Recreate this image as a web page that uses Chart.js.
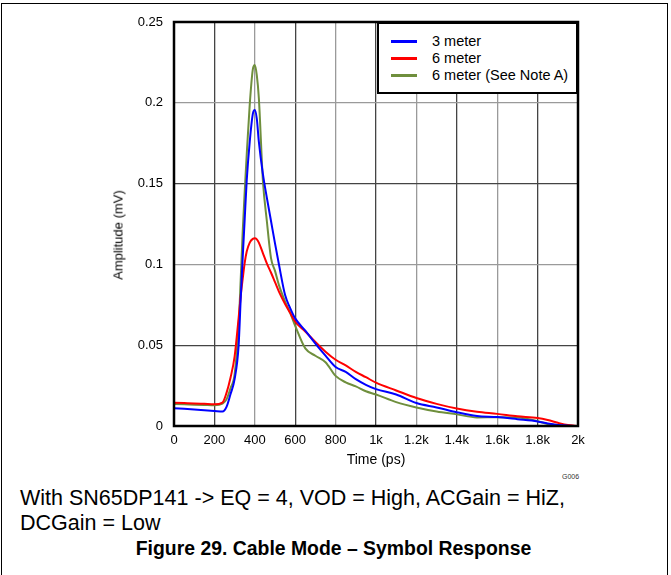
<!DOCTYPE html>
<html>
<head>
<meta charset="utf-8">
<script src="https://cdn.jsdelivr.net/npm/chart.js@4.4.1/dist/chart.umd.min.js"></script>
<style>
  html, body { margin: 0; padding: 0; background: #fff; }
  body { width: 671px; height: 575px; position: relative; overflow: hidden; font-family: "Liberation Sans", Arial, sans-serif; }
  #frame { position: absolute; left: 1px; top: 3px; width: 667px; height: 620px; border: 1.5px solid #000; box-sizing: border-box; }
  #chart { position: absolute; left: 0; top: 0; }
  #ytitle { position: absolute; left: 118px; top: 235px; width: 0; height: 0; }
  #ytitle span { position: absolute; left: 0; top: 0; transform: translate(-50%, -50%) rotate(-90deg);
                 white-space: nowrap; font-size: 13px; color: #000; }
  #legend { position: absolute; left: 377px; top: 22px; width: 201px; height: 72px; box-sizing: border-box;
            border: 2px solid #000; background: #fff; padding-top: 9px; }
  .row { position: relative; height: 17px; font-size: 14.5px; line-height: 17px; color: #000; }
  .row .swatch { position: absolute; left: 12px; top: 7px; width: 26px; height: 3px; }
  .row .txt { position: absolute; left: 53px; top: 0; white-space: nowrap; }
  #code { position: absolute; left: 562px; top: 473px; font-size: 7px; color: #333; }
  .note { position: absolute; left: 20px; font-size: 21.5px; color: #000; white-space: nowrap; }
  #title { position: absolute; left: 0; width: 667px; text-align: center; top: 537px; font-size: 19.4px; font-weight: bold; white-space: nowrap; }
</style>
</head>
<body>
<div id="frame"></div>
<canvas id="chart" width="671" height="470"></canvas>
<div id="ytitle"><span>Amplitude (mV)</span></div>
<div id="legend"></div>
<div id="code">G006</div>
<div class="note" style="top:486px">With SN65DP141 -&gt; EQ = 4, VOD = High, ACGain = HiZ,</div>
<div class="note" style="top:511px">DCGain = Low</div>
<div id="title">Figure 29. Cable Mode – Symbol Response</div>
<script>
// Sample times (ps)
const timePs = [0, 50, 100, 150, 200, 240, 260, 280, 300, 320, 330, 340, 350, 360, 375, 390, 400, 410, 420, 440,
  460, 480, 500, 520, 550, 575, 600, 650, 700, 750, 800, 850, 900, 950, 1000, 1100, 1200, 1300, 1400,
  1500, 1600, 1700, 1800, 1850, 1900, 1950, 2000];

// Amplitude (mV) for each cable setup
const meter3 = [0.011, 0.0106, 0.0102, 0.0098, 0.0093, 0.0089, 0.0118, 0.0198, 0.029, 0.05, 0.078, 0.104, 0.128, 0.152,
  0.176, 0.193, 0.1955, 0.19, 0.176, 0.156, 0.141, 0.127, 0.113, 0.0996, 0.081, 0.073, 0.0666, 0.059, 0.051,
  0.0435, 0.0365, 0.0335, 0.029, 0.0255, 0.0228, 0.0195, 0.0142, 0.0115, 0.0085, 0.0062, 0.0055, 0.0042,
  0.0028, 0.0015, 0.0006, 0.0002, 0];
const meter6 = [0.0144, 0.0142, 0.014, 0.0137, 0.0134, 0.0145, 0.0205, 0.03, 0.043, 0.067, 0.08, 0.091, 0.101, 0.108,
  0.1135, 0.1158, 0.1162, 0.1155, 0.1135, 0.107, 0.1005, 0.095, 0.089, 0.083, 0.0755, 0.07, 0.0645, 0.0585,
  0.052, 0.046, 0.041, 0.0375, 0.0335, 0.0302, 0.0268, 0.022, 0.0173, 0.0137, 0.0108, 0.0088, 0.0075, 0.006,
  0.0049, 0.0037, 0.002, 0.0006, 0];
const meter6NoteA = [0.0136, 0.0134, 0.0132, 0.013, 0.0128, 0.0138, 0.0165, 0.0235, 0.032, 0.062, 0.09, 0.12, 0.145,
  0.168, 0.199, 0.2205, 0.2234, 0.217, 0.203, 0.152, 0.1264, 0.104, 0.096, 0.087, 0.077, 0.07, 0.062, 0.048,
  0.0435, 0.0395, 0.031, 0.027, 0.0245, 0.0215, 0.0195, 0.0148, 0.0115, 0.009, 0.0072, 0.0053, 0.0054, 0.0052,
  0.003, 0.0012, 0.0004, 0.0001, 0];

const seriesLabels = ['3 meter', '6 meter', '6 meter (See Note A)'];
const seriesColors = ['#0000ff', '#ff0000', '#6f8f3d'];
const seriesValues = [meter3, meter6, meter6NoteA];

const xTickLabels = { 0: '0', 200: '200', 400: '400', 600: '600', 800: '800', 1000: '1k', 1200: '1.2k',
  1400: '1.4k', 1600: '1.6k', 1800: '1.8k', 2000: '2k' };
const yTickLabels = { 0: '0', 0.05: '0.05', 0.1: '0.1', 0.15: '0.15', 0.2: '0.2', 0.25: '0.25' };

const CANVAS_H = 470;
const AREA = { left: 174, right: 578, top: 22, bottom: 426 };

const datasets = seriesValues.map((vals, i) => ({
  label: seriesLabels[i],
  data: timePs.map((t, j) => ({ x: t, y: vals[j] })),
  borderColor: seriesColors[i],
  borderWidth: 2,
  pointRadius: 0,
  fill: false,
  cubicInterpolationMode: 'monotone'
}));

// thick black box around the plot area
const plotFrame = {
  id: 'plotFrame',
  afterDatasetsDraw(chart) {
    const { ctx, chartArea: a } = chart;
    ctx.save();
    ctx.strokeStyle = '#000';
    ctx.lineWidth = 2.5;
    ctx.strokeRect(a.left, a.top, a.right - a.left, a.bottom - a.top);
    ctx.restore();
  }
};

const tickFont = { family: '"Liberation Sans", Arial, sans-serif', size: 13 };
const titleFont = { family: '"Liberation Sans", Arial, sans-serif', size: 14 };

const chart = new Chart(document.getElementById('chart'), {
  type: 'line',
  data: { datasets },
  options: {
    responsive: false,
    animation: false,
    layout: { padding: { top: AREA.top, right: 671 - AREA.right, left: 0, bottom: 0 } },
    plugins: { legend: { display: false }, tooltip: { enabled: false } },
    scales: {
      x: {
        type: 'linear', min: 0, max: 2000,
        afterFit: (s) => { s.height = CANVAS_H - AREA.bottom; },
        afterBuildTicks: (s) => { s.ticks = Object.keys(xTickLabels).map(v => ({ value: +v })); },
        ticks: { color: '#000', font: tickFont, padding: 7, maxRotation: 0,
                 callback: (v) => xTickLabels[v] },
        grid: { drawTicks: false, lineWidth: 1.3,
                color: (c) => (c.tick && (c.tick.value / 200) % 2 === 1 ? '#444' : '#9a9a9a') },
        border: { display: false },
        title: { display: true, text: 'Time (ps)', color: '#000', font: titleFont, padding: { bottom: 1, top: 0 } }
      },
      y: {
        type: 'linear', min: 0, max: 0.25,
        afterFit: (s) => { s.width = AREA.left; },
        afterBuildTicks: (s) => { s.ticks = Object.keys(yTickLabels).map(v => ({ value: +v })); },
        ticks: { color: '#000', font: tickFont, padding: 11,
                 callback: (v) => yTickLabels[+v.toFixed(2)] },
        grid: { drawTicks: false, lineWidth: 1.3,
                color: (c) => (c.tick && Math.round(c.tick.value / 0.05) % 2 === 1 ? '#444' : '#9a9a9a') },
        border: { display: false }
      }
    }
  },
  plugins: [plotFrame]
});

// legend box built from the chart's datasets
const legend = document.getElementById('legend');
chart.data.datasets.forEach((ds) => {
  const row = document.createElement('div');
  row.className = 'row';
  const sw = document.createElement('span');
  sw.className = 'swatch';
  sw.style.background = ds.borderColor;
  const tx = document.createElement('span');
  tx.className = 'txt';
  tx.textContent = ds.label;
  row.appendChild(sw);
  row.appendChild(tx);
  legend.appendChild(row);
});
</script>
</body>
</html>
